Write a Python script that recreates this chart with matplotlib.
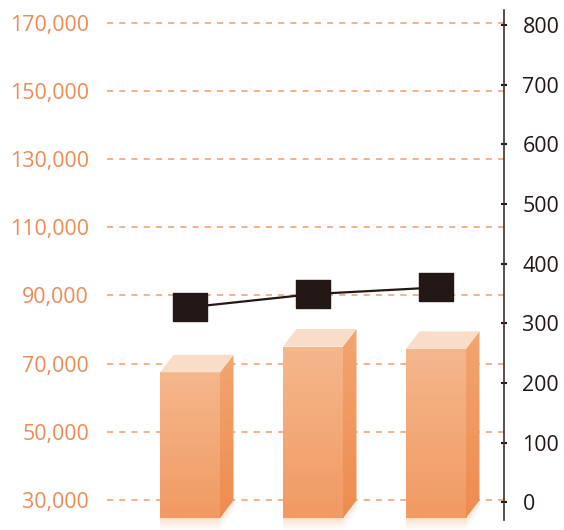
import numpy as np
import matplotlib.pyplot as plt
from matplotlib.patches import Polygon, Rectangle
from matplotlib.colors import LinearSegmentedColormap

plt.rcParams['font.family'] = ['Open Sans', 'DejaVu Sans']

# data
categories = ['1', '2', '3']          # no category labels are shown
bar_values = [67400, 75000, 74300]    # left axis
line_values = [327, 349, 360]         # right axis
left_ticks = [30000, 50000, 70000, 90000, 110000, 130000, 150000, 170000]
right_ticks = [0, 100, 200, 300, 400, 500, 600, 700, 800]

ORANGE_TXT = '#EE8A55'
DARK = '#231815'

fig = plt.figure(figsize=(5.64, 5.30), dpi=100)
ax = fig.add_axes([107 / 564, 10 / 530, 397 / 564, 510 / 530])
ax2 = ax.twinx()

xlim = (-0.675, 2.553)
ylim = (23971, 173970)
ax.set_xlim(*xlim)
ax.set_ylim(*ylim)
ax2.set_ylim(-29.7, 825.1)

# px -> data helpers (axes is 397 x 510 px)
px_x = (xlim[1] - xlim[0]) / 397
px_y = (ylim[1] - ylim[0]) / 510

# dashed grid
for t in left_ticks:
    ax.axhline(t, color='#F29B68', lw=1.1, ls=(0, (4, 4)), zorder=1)

x = np.arange(len(categories))
base = 24560
width = 0.488
dx, dy = 13.5 * px_x, 17.5 * px_y

front_cmap = LinearSegmentedColormap.from_list('front', ['#F19A62', '#F5B78D'])
side_cmap = LinearSegmentedColormap.from_list('side', ['#EE8C4F', '#F3A570'])
grad = np.linspace(0, 1, 256).reshape(-1, 1)

bars = ax.bar(x, np.array(bar_values) - base, width, bottom=base,
              color='none', edgecolor='none', zorder=2)

for rect in bars:
    x0, y0 = rect.get_x(), rect.get_y()
    x1, y1 = x0 + rect.get_width(), y0 + rect.get_height()

    # front face gradient
    im = ax.imshow(grad, cmap=front_cmap, origin='lower', aspect='auto',
                   extent=[x0, x1, y0, y1], zorder=3)
    im.set_clip_path(rect)

    # side face
    side = Polygon([(x1, y0), (x1, y1), (x1 + dx, y1 + dy), (x1 + dx, y0 + dy)],
                   closed=True, fc='none', ec='none', zorder=3)
    ax.add_patch(side)
    im2 = ax.imshow(grad, cmap=side_cmap, origin='lower', aspect='auto',
                    extent=[x1, x1 + dx, y0, y1 + dy], zorder=3)
    im2.set_clip_path(side)

    # top face
    ax.add_patch(Polygon([(x0, y1), (x1, y1), (x1 + dx, y1 + dy), (x0 + dx, y1 + dy)],
                         closed=True, fc='#FADDC8', ec='none', zorder=3))

    # soft reflection under the bar
    n = 12
    for i in range(n):
        a = 0.55 * (1 - i / n)
        ya, yb = y0 - i * px_y, y0 - (i + 1) * px_y
        ax.add_patch(Rectangle((x0, yb), x1 - x0, ya - yb, fc='#F7CBAA',
                               ec='none', alpha=a, zorder=2, clip_on=False))
        ax.add_patch(Polygon([(x1, yb), (x1, ya), (x1 + dx, ya + dy), (x1 + dx, yb + dy)],
                             closed=True, fc='#F7CBAA', ec='none', alpha=a * 0.7,
                             zorder=2, clip_on=False))

ax.set_xticks([])
ax.set_yticks(left_ticks)
ax.set_yticklabels([f'{t:,}' for t in left_ticks])
ax.tick_params(axis='y', length=0, pad=13, labelsize=15.4, labelcolor=ORANGE_TXT)
for s in ax.spines.values():
    s.set_visible(False)

# line with square markers on the right axis
marker = [(-1, -0.82), (1, -0.82), (1, 0.82), (-1, 0.82), (-1, -0.82)]
ax2.plot(x, line_values, color=DARK, lw=1.6, marker=marker, ms=23.8,
         mfc=DARK, mec=DARK, zorder=5)

ax2.set_yticks(right_ticks)
ax2.tick_params(axis='y', direction='inout', length=4.5, width=1.5, color=DARK,
                pad=11, labelsize=15.4, labelcolor=DARK)
for k in ('left', 'top', 'bottom'):
    ax2.spines[k].set_visible(False)
ax2.spines['right'].set_color('#3a3030')
ax2.spines['right'].set_linewidth(1.2)

fig.savefig('out.png', dpi=100)
